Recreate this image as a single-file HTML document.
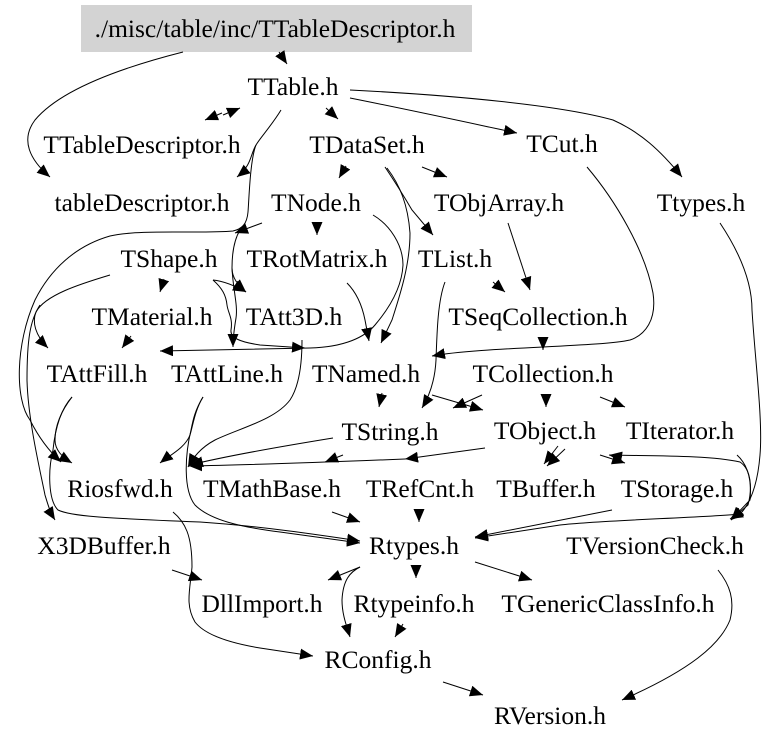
<!DOCTYPE html>
<html>
<head>
<meta charset="utf-8">
<style>
  html,body{margin:0;padding:0;background:#fff;}
  svg{display:block;}
  text{font-family:"Liberation Serif","DejaVu Serif",serif;font-size:25.5px;fill:#000;}
  path.e{fill:none;stroke:#000;stroke-width:1;}
</style>
</head>
<body>
<svg width="779" height="746" viewBox="0 0 779 746" xmlns="http://www.w3.org/2000/svg">
  <defs>
    <marker id="a" markerUnits="userSpaceOnUse" markerWidth="13" markerHeight="11" refX="13" refY="5.5" orient="auto">
      <path d="M0,0 L13,5.5 L0,11 z" fill="#000"/>
    </marker>
  </defs>
  <rect x="0" y="0" width="779" height="746" fill="#fff"/>
  <rect x="81" y="5" width="391" height="47" fill="#d3d3d3"/>

  <!-- edges -->
  <g>
    <path class="e" marker-end="url(#a)" d="M183,52 C120,68 60,90 35,120 C20,140 30,160 50,177"/>
    <path class="e" marker-end="url(#a)" d="M279,52 L287,64"/>
    <path class="e" marker-end="url(#a)" d="M222,113 L205,120"/>
    <path class="e" marker-end="url(#a)" d="M223,115 L240,108"/>
    <path class="e" marker-end="url(#a)" d="M281,110 C272,125 260,138 256,145 C250,155 252,165 237,177"/>
    <path class="e" marker-end="url(#a)" d="M256,145 C250,160 249,200 248,212 C247,224 242,229 233,231 C200,234 140,229 110,236 C75,246 50,270 35,300 C15,345 15,400 30,420 C40,440 50,452 61,462"/>
    <path class="e" marker-end="url(#a)" d="M262,223 L235,233"/>
    <path class="e" marker-end="url(#a)" d="M240,230 C234,240 232,255 232,268 C232,278 238,285 246,292"/>
    <path class="e" marker-end="url(#a)" d="M232,268 C233,290 238,305 236,318 C234,330 233,338 233,347"/>
    <path class="e" marker-end="url(#a)" d="M110,275 C80,284 45,295 36,312 C32,322 35,335 48,348"/>
    <path class="e" marker-end="url(#a)" d="M40,305 C30,320 27,340 27,380 C28,420 40,470 45,495 C48,505 50,512 55,520"/>
    <path class="e" marker-end="url(#a)" d="M164,279 L160,292"/>
    <path class="e" marker-end="url(#a)" d="M131,336 L122,348"/>
    <path class="e" marker-end="url(#a)" d="M213,280 C222,281 232,284 246,292"/>
    <path class="e" marker-end="url(#a)" d="M213,280 C222,288 226,295 227,305 C228,313 233,318 231,330 C230,338 240,342 260,345 L305,348"/>
    <path class="e" marker-end="url(#a)" d="M373,215 C390,225 403,245 403,265 C402,285 392,305 375,325 C365,337 345,347 310,348 L160,351"/>
    <path class="e" marker-end="url(#a)" d="M387,168 C400,185 408,205 410,233 C410,265 400,295 392,320 L381,343"/>
    <path class="e" marker-end="url(#a)" d="M347,283 C356,292 362,305 365,320 L369,341"/>
    <path class="e" marker-end="url(#a)" d="M346,166 L339,178"/>
    <path class="e" marker-end="url(#a)" d="M422,167 L447,177"/>
    <path class="e" marker-end="url(#a)" d="M385,167 C395,182 405,198 412,210 L433,235"/>
    <path class="e" marker-end="url(#a)" d="M317,222 L317,235"/>
    <path class="e" marker-end="url(#a)" d="M326,108 L338,119"/>
    <path class="e" marker-end="url(#a)" d="M350,98 C420,112 470,123 517,133"/>
    <path class="e" marker-end="url(#a)" d="M350,90 C450,95 560,105 613,120 C640,132 660,150 682,177"/>
    <path class="e" marker-end="url(#a)" d="M587,167 C615,200 645,250 653,293 C657,320 645,335 630,340 C600,347 480,347 432,356"/>
    <path class="e" marker-end="url(#a)" d="M508,223 L530,290"/>
    <path class="e" marker-end="url(#a)" d="M493,282 L505,292"/>
    <path class="e" marker-end="url(#a)" d="M445,282 C438,300 437,330 436,360 C435,380 430,395 422,408"/>
    <path class="e" marker-end="url(#a)" d="M543,337 L543,350"/>
    <path class="e" marker-end="url(#a)" d="M720,223 C738,250 752,280 752,310 C755,360 763,420 760,455 C758,480 752,500 742,512 L730,519"/>
    <path class="e" marker-end="url(#a)" d="M612,510 L475,537"/>
    <path class="e" marker-end="url(#a)" d="M740,514 C700,518 600,520 560,525 L475,538"/>
    <path class="e" marker-end="url(#a)" d="M610,455 C650,456 710,455 740,462 C752,470 752,490 748,505 L731,520"/>
    <path class="e" marker-end="url(#a)" d="M737,455 C748,465 752,480 750,500 L731,520"/>
    <path class="e" marker-end="url(#a)" d="M622,457 L609,455"/>
    <path class="e" marker-end="url(#a)" d="M600,455 L625,463"/>
    <path class="e" marker-end="url(#a)" d="M565,449 L547,466"/>
    <path class="e" marker-end="url(#a)" d="M558,446 L544,464"/>
    <path class="e" marker-end="url(#a)" d="M485,448 L405,459"/>
    <path class="e" marker-end="url(#a)" d="M405,459 C330,462 250,465 189,466"/>
    <path class="e" marker-end="url(#a)" d="M333,438 C290,445 230,455 190,465"/>
    <path class="e" marker-end="url(#a)" d="M343,455 L325,462"/>
    <path class="e" marker-end="url(#a)" d="M302,340 C302,360 300,385 290,400 C275,420 240,428 215,440 C200,448 193,458 188,467"/>
    <path class="e" marker-end="url(#a)" d="M203,397 C195,410 193,425 190,435 C185,448 170,455 160,463"/>
    <path class="e" marker-end="url(#a)" d="M203,397 C195,410 193,420 191,430 C185,455 183,490 195,505 C210,520 240,527 280,532 L360,543"/>
    <path class="e" marker-end="url(#a)" d="M72,397 C62,410 55,425 55,440 C55,450 62,457 72,463"/>
    <path class="e" marker-end="url(#a)" d="M72,397 C60,410 55,430 53,450 C48,470 48,500 58,510 C70,516 100,518 200,522 C260,526 320,535 360,541"/>
    <path class="e" marker-end="url(#a)" d="M382,393 L379,407"/>
    <path class="e" marker-end="url(#a)" d="M432,395 L483,410"/>
    <path class="e" marker-end="url(#a)" d="M482,395 L453,408"/>
    <path class="e" marker-end="url(#a)" d="M546,394 L546,407"/>
    <path class="e" marker-end="url(#a)" d="M600,397 L625,407"/>
    <path class="e" marker-end="url(#a)" d="M332,512 L360,522"/>
    <path class="e" marker-end="url(#a)" d="M419,509 L419,522"/>
    <path class="e" marker-end="url(#a)" d="M172,570 L202,580"/>
    <path class="e" marker-end="url(#a)" d="M173,512 C185,522 192,535 192,567 C190,590 185,605 195,622 C205,635 230,643 260,648 L313,656"/>
    <path class="e" marker-end="url(#a)" d="M360,567 L328,580"/>
    <path class="e" marker-end="url(#a)" d="M360,567 C350,572 343,580 342,600 C342,615 347,627 350,637"/>
    <path class="e" marker-end="url(#a)" d="M416,565 L416,578"/>
    <path class="e" marker-end="url(#a)" d="M403,624 L395,637"/>
    <path class="e" marker-end="url(#a)" d="M475,562 L532,580"/>
    <path class="e" marker-end="url(#a)" d="M443,682 L483,695"/>
    <path class="e" marker-end="url(#a)" d="M718,570 C730,585 735,600 730,620 C720,645 690,670 622,700"/>
  </g>

  <!-- nodes -->
  <g text-anchor="middle">
    <text x="275" y="37">./misc/table/inc/TTableDescriptor.h</text>
    <text x="293" y="95">TTable.h</text>
    <text x="142" y="153">TTableDescriptor.h</text>
    <text x="367" y="153">TDataSet.h</text>
    <text x="562" y="152">TCut.h</text>
    <text x="142" y="211">tableDescriptor.h</text>
    <text x="316" y="211">TNode.h</text>
    <text x="499" y="211">TObjArray.h</text>
    <text x="701" y="211">Ttypes.h</text>
    <text x="169" y="267">TShape.h</text>
    <text x="317" y="267">TRotMatrix.h</text>
    <text x="455" y="267">TList.h</text>
    <text x="152" y="325">TMaterial.h</text>
    <text x="294" y="325">TAtt3D.h</text>
    <text x="538" y="325">TSeqCollection.h</text>
    <text x="97" y="382">TAttFill.h</text>
    <text x="227" y="382">TAttLine.h</text>
    <text x="366" y="382">TNamed.h</text>
    <text x="543" y="382">TCollection.h</text>
    <text x="390" y="440">TString.h</text>
    <text x="545" y="439">TObject.h</text>
    <text x="680" y="439">TIterator.h</text>
    <text x="120" y="497">Riosfwd.h</text>
    <text x="272" y="497">TMathBase.h</text>
    <text x="420" y="497">TRefCnt.h</text>
    <text x="546" y="497">TBuffer.h</text>
    <text x="677" y="497">TStorage.h</text>
    <text x="104" y="554">X3DBuffer.h</text>
    <text x="414" y="554">Rtypes.h</text>
    <text x="655" y="554">TVersionCheck.h</text>
    <text x="262" y="612">DllImport.h</text>
    <text x="414" y="612">Rtypeinfo.h</text>
    <text x="608" y="612">TGenericClassInfo.h</text>
    <text x="378" y="668">RConfig.h</text>
    <text x="550" y="724">RVersion.h</text>
  </g>
</svg>
</body>
</html>
